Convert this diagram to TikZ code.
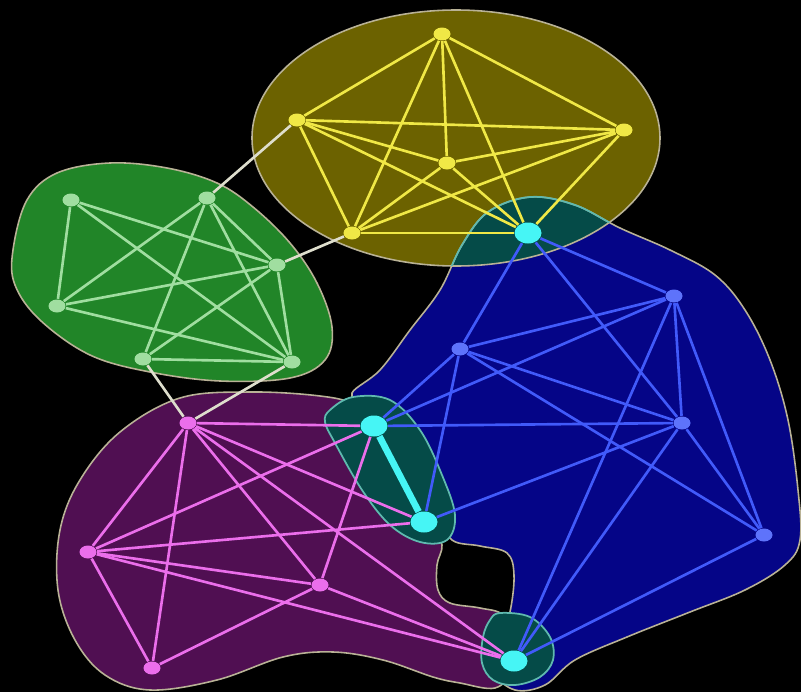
\documentclass[tikz,border=0pt]{standalone}
\usetikzlibrary{shapes.geometric}
\definecolor{yfill}{RGB}{108,98,0}
\definecolor{gfill}{RGB}{33,133,40}
\definecolor{bfill}{RGB}{5,5,135}
\definecolor{mfill}{RGB}{80,15,82}
\definecolor{tfill}{RGB}{5,75,72}
\definecolor{outl}{RGB}{185,178,150}
\definecolor{toutl}{RGB}{95,185,175}
\definecolor{yline}{RGB}{240,232,70}
\definecolor{gline}{RGB}{160,222,160}
\definecolor{bline}{RGB}{65,90,250}
\definecolor{mline}{RGB}{235,110,235}
\definecolor{cline}{RGB}{70,245,245}
\definecolor{wline}{RGB}{222,222,205}
\begin{document}
\begin{tikzpicture}[x=0.1mm,y=-0.1mm,
  nd/.style={ellipse,inner sep=0pt,minimum width=1.7mm,minimum height=1.3mm,draw=none},
  ynode/.style={nd,fill=yline},
  gnode/.style={nd,fill=gline},
  bnode/.style={nd,fill=bline!85!white},
  mnode/.style={nd,fill=mline},
  cnode/.style={ellipse,inner sep=0pt,minimum width=2.7mm,minimum height=2.1mm,fill=cline},
  yedge/.style={draw=yline,line width=0.75pt},
  gedge/.style={draw=gline,line width=0.75pt},
  bedge/.style={draw=bline,line width=0.75pt},
  medge/.style={draw=mline,line width=0.75pt},
  wedge/.style={draw=wline,line width=0.75pt},
  cedge/.style={draw=cline,line width=1.9pt},
  blob/.style={draw=outl,line width=0.45pt},
  tblob/.style={fill=tfill,draw=toutl,line width=0.5pt}]
\fill[black] (0,0) rectangle (801,692);
\useasboundingbox (0,0) rectangle (801,692);

\def\magpath{plot[smooth cycle,tension=0.6] coordinates {(180,398) (250,392) (320,396) (355,405) (385,430) (410,480) (432,525) (442,545) (437,565) (438,590) (450,603) (480,608) (503,615) (515,640) (512,670) (495,688) (460,683) (433,677) (383,660) (333,652) (283,657) (217,680) (150,690) (105,675) (75,640) (58,590) (60,530) (80,480) (120,432)}}
\def\bluepath{plot[smooth cycle,tension=0.6] coordinates {(530,197) (575,205) (620,228) (670,250) (715,275) (745,310) (770,360) (788,420) (798,490) (800,540) (785,565) (745,590) (690,612) (627,637) (575,660) (545,685) (515,690) (495,672) (500,640) (510,612) (514,575) (507,553) (480,546) (452,540) (440,515) (420,470) (395,432) (365,405) (352,393) (380,370) (410,330) (440,290) (462,245) (488,212)}}
\def\greenpath{plot[smooth cycle,tension=0.6] coordinates {(13,250) (27,200) (57,173) (110,163) (167,168) (217,183) (253,207) (290,243) (317,283) (332,327) (325,360) (290,378) (220,381) (150,372) (90,355) (40,320) (15,285)}}
\def\ypath{(456,138) ellipse [x radius=20.4mm, y radius=12.8mm]}

% fills
\fill[mfill] \magpath;
\fill[bfill] \bluepath;
\fill[gfill] \greenpath;
\fill[yfill] \ypath;
\begin{scope}
  \clip \ypath;
  \fill[tfill] \bluepath;
\end{scope}
% outlines
\path[blob] \magpath;
\path[blob] \bluepath;
\path[blob] \greenpath;
\path[blob] \ypath;
\begin{scope}
  \clip \ypath;
  \draw[toutl,line width=0.5pt] \bluepath;
\end{scope}
% teal capsules
\path[tblob] plot[smooth cycle,tension=0.6] coordinates {(330,410) (353,397) (390,400) (420,430) (442,475) (455,515) (447,540) (420,542) (390,525) (362,490) (335,443) (325,422)};
\path[tblob] plot[smooth cycle,tension=0.6] coordinates {(500,613) (530,617) (550,637) (553,660) (540,677) (515,685) (493,680) (482,663) (483,637) (490,620)};

% nodes
\node[ynode] (y1) at (442,34) {};
\node[ynode] (y2) at (297,120) {};
\node[ynode] (y3) at (624,130) {};
\node[ynode] (y4) at (447,163) {};
\node[ynode] (y5) at (352,233) {};
\node[gnode] (g1) at (71,200) {};
\node[gnode] (g2) at (207,198) {};
\node[gnode] (g3) at (277,265) {};
\node[gnode] (g4) at (57,306) {};
\node[gnode] (g5) at (143,359) {};
\node[gnode] (g6) at (292,362) {};
\node[bnode] (b1) at (674,296) {};
\node[bnode] (b2) at (460,349) {};
\node[bnode] (b3) at (682,423) {};
\node[bnode] (b4) at (764,535) {};
\node[mnode] (m1) at (188,423) {};
\node[mnode] (m2) at (88,552) {};
\node[mnode] (m3) at (320,585) {};
\node[mnode] (m4) at (152,668) {};
\node[cnode] (c1) at (528,233) {};
\node[cnode] (c2) at (374,426) {};
\node[cnode] (c3) at (424,522) {};
\node[cnode] (c4) at (514,661) {};

% edges
\foreach \a/\b in {y1/y2,y1/y3,y1/y4,y1/y5,y1/c1,y2/y3,y2/y4,y2/y5,y2/c1,y3/y4,y3/y5,y3/c1,y4/y5,y4/c1,y5/c1}
  \path[yedge] (\a) -- (\b);
\foreach \a/\b in {g1/g4,g1/g3,g1/g6,g2/g3,g2/g4,g2/g5,g2/g6,g3/g4,g3/g5,g3/g6,g4/g6,g5/g6}
  \path[gedge] (\a) -- (\b);
\foreach \a/\b in {y2/g2,y5/g3,g5/m1,g6/m1}
  \path[wedge] (\a) -- (\b);
\foreach \a/\b in {m1/m2,m1/m3,m1/m4,m1/c2,m1/c3,m1/c4,m2/m3,m2/m4,m2/c2,m2/c3,m2/c4,m3/m4,m3/c2,m3/c4}
  \path[medge] (\a) -- (\b);
\foreach \a/\b in {c1/b1,c1/b2,c1/b3,b1/b2,b1/b3,b1/b4,b1/c2,b1/c4,b2/b3,b2/b4,b2/c2,b2/c3,b3/b4,b3/c2,b3/c3,b3/c4,b4/c4}
  \path[bedge] (\a) -- (\b);
\path[cedge] (c2) -- (c3);
\end{tikzpicture}
\end{document}
